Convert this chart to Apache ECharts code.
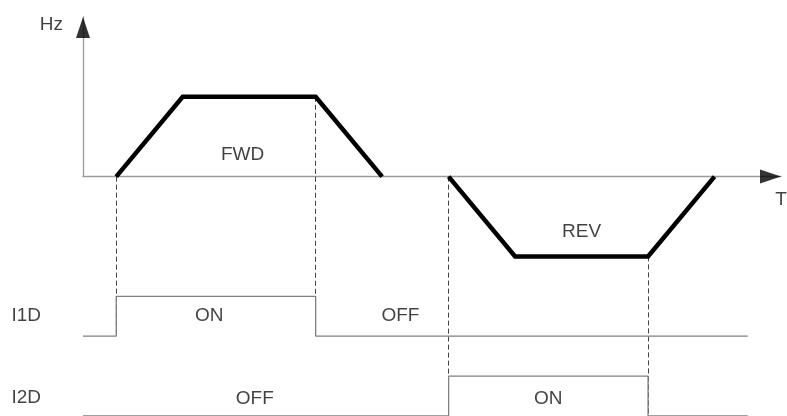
<!DOCTYPE html>
<html>
<head>
<meta charset="utf-8">
<script src="https://cdn.jsdelivr.net/npm/echarts@6/dist/echarts.min.js"></script>
<style>
  html, body { margin: 0; padding: 0; background: #fff; }
  #main { width: 787px; height: 416px; }
</style>
</head>
<body>
<div id="main"></div>
<script>
// 时间单位 t，频率 Hz 归一化 (1 = 运行频率)
const fwdProfile = [[1, 0], [3, 1], [7, 1], [9, 0]]
const revProfile = [[11, 0], [13, -1], [17, -1], [19, 0]]

// 端子状态 0/1
const i1dSteps = [[0, 0], [1, 0], [1, 1], [7, 1], [7, 0], [20, 0]]
const i2dSteps = [[0, 0], [11, 0], [11, 1], [17, 1], [17, 0], [20, 0]]
const i1dBase = -2
const i2dBase = -3
const stepHeight = 0.5

// 虚线: [t, from, to]
const switchMarks = [[1, 0, -2], [7, 1, -2], [11, 0, -3], [17, -1, -3]]

// 坐标轴箭头: [t, y, 旋转]
const axisArrows = [[0, 2, 0], [21, 0, -90]]

// 文字: [text, t, y]
const textLabels = [
  ['Hz', -0.95, 1.9],
  ['T', 21, -0.29],
  ['FWD', 4.8, 0.27],
  ['REV', 15, -0.69],
  ['I1D', -1.71, -1.75],
  ['ON', 3.8, -1.75],
  ['OFF', 9.55, -1.75],
  ['I2D', -1.71, -2.77],
  ['OFF', 5.17, -2.79],
  ['ON', 14, -2.79]
]

const tMax = 21
const fontFamily = '"Liberation Sans", Arial, sans-serif'

const toLevel = (steps, base) => steps.map(p => [p[0], base + p[1] * stepHeight])

const hiddenAxis = { show: false }
const greyAxisLine = {
  show: true,
  lineStyle: { color: '#9a9a9a', width: 1.3 }
}

const option = {
  animation: false,
  backgroundColor: '#fff',
  grid: [
    { left: 83, top: 17, width: 698, height: 159.6 },
    { left: 83, top: 17, width: 698, height: 399 }
  ],
  xAxis: [
    {
      gridIndex: 0, type: 'value', min: 0, max: tMax,
      axisLine: greyAxisLine,
      axisTick: { show: false }, axisLabel: { show: false }, splitLine: { show: false }
    },
    { gridIndex: 1, type: 'value', min: 0, max: tMax, ...hiddenAxis }
  ],
  yAxis: [
    {
      gridIndex: 0, type: 'value', min: 0, max: 2,
      axisLine: greyAxisLine,
      axisTick: { show: false }, axisLabel: { show: false }, splitLine: { show: false }
    },
    { gridIndex: 1, type: 'value', min: -3, max: 2, ...hiddenAxis }
  ],
  series: [
    {
      name: 'arrows',
      type: 'scatter',
      xAxisIndex: 0,
      yAxisIndex: 0,
      clip: false,
      z: 5,
      symbol: 'triangle',
      symbolSize: [14, 21],
      itemStyle: { color: '#000' },
      data: axisArrows.map(a => ({
        value: [a[0], a[1]],
        symbolRotate: a[2],
        symbolOffset: a[2] === 0 ? [0, 10.5] : [-10.5, 0]
      }))
    },
    {
      name: 'switch',
      type: 'lines',
      coordinateSystem: 'cartesian2d',
      xAxisIndex: 1,
      yAxisIndex: 1,
      z: 1,
      lineStyle: { color: '#444', width: 1, type: [5, 3], opacity: 1 },
      data: switchMarks.map(m => ({ coords: [[m[0], m[1]], [m[0], m[2]]] }))
    },
    {
      name: 'I1D',
      type: 'line',
      xAxisIndex: 1,
      yAxisIndex: 1,
      symbol: 'none',
      z: 2,
      lineStyle: { color: '#808080', width: 1.3 },
      data: toLevel(i1dSteps, i1dBase)
    },
    {
      name: 'I2D',
      type: 'line',
      xAxisIndex: 1,
      yAxisIndex: 1,
      symbol: 'none',
      z: 2,
      lineStyle: { color: '#808080', width: 1.3 },
      data: toLevel(i2dSteps, i2dBase)
    },
    {
      name: 'FWD',
      type: 'line',
      xAxisIndex: 1,
      yAxisIndex: 1,
      symbol: 'none',
      z: 3,
      lineStyle: { color: '#000', width: 4.5, join: 'miter', cap: 'butt' },
      data: fwdProfile
    },
    {
      name: 'REV',
      type: 'line',
      xAxisIndex: 1,
      yAxisIndex: 1,
      symbol: 'none',
      z: 3,
      lineStyle: { color: '#000', width: 4.5, join: 'miter', cap: 'butt' },
      data: revProfile
    },
    {
      name: 'text',
      type: 'scatter',
      xAxisIndex: 1,
      yAxisIndex: 1,
      clip: false,
      symbolSize: 0,
      z: 4,
      label: {
        show: true,
        position: 'inside',
        color: '#111',
        fontSize: 19,
        fontFamily: fontFamily,
        formatter: p => p.name
      },
      data: textLabels.map(l => ({ name: l[0], value: [l[1], l[2]] }))
    }
  ]
}

const myChart = echarts.init(document.getElementById('main'), null, { renderer: 'canvas' })
myChart.setOption(option)
</script>
</body>
</html>
